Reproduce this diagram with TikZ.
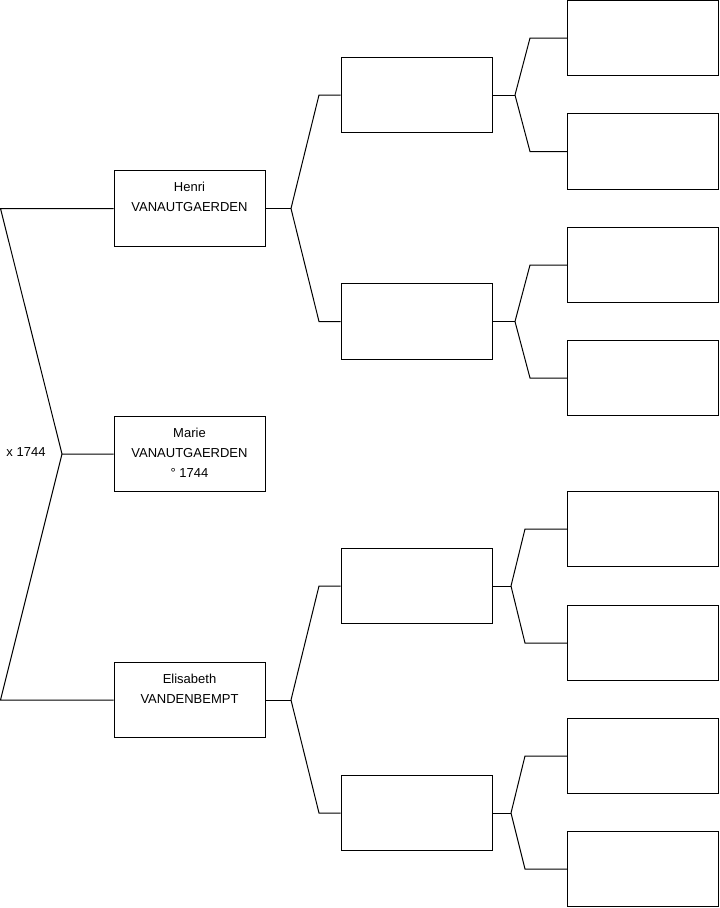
\documentclass[tikz,border=0pt]{standalone}
\usepackage{fontspec}
\setmainfont{Liberation Sans}
\begin{document}
\begin{tikzpicture}[x=0.75pt,y=-0.75pt,
  line width=0.75pt,
  person/.style={draw, minimum width=113.25pt, minimum height=56.5pt, inner sep=0pt},
  txt/.style={anchor=north, inner sep=0pt, align=center, font=\fontsize{9.75}{15}\selectfont},
  lbl/.style={inner sep=0pt, font=\fontsize{9.75}{15}\selectfont}]
\useasboundingbox (0,0) rectangle (719,908);
% generation 1
\node[person] (henri) at (189.5,208.5) {};
\node[person] (marie) at (189.5,454) {};
\node[person] (elis) at (189.5,700) {};
\node[txt] (henriT) at ([yshift=-8.5pt]henri.north) {Henri\\VANAUTGAERDEN};
\node[txt] (marieT) at ([yshift=-8.5pt]marie.north) {Marie\\VANAUTGAERDEN\\° 1744};
\node[txt] (elisT) at ([yshift=-8.5pt]elis.north) {Elisabeth\\VANDENBEMPT};
% generation 2
\node[person] (ga) at (416.5,95) {};
\node[person] (gb) at (416.5,321.5) {};
\node[person] (gc) at (416.5,586) {};
\node[person] (gd) at (416.5,813) {};
% generation 3
\node[person] (ha) at (643,38) {};
\node[person] (hb) at (643,151.5) {};
\node[person] (hc) at (643,265) {};
\node[person] (hd) at (643,378) {};
\node[person] (he) at (643,529) {};
\node[person] (hf) at (643,643) {};
\node[person] (hg) at (643,756) {};
\node[person] (hh) at (643,869) {};
% marriage connector
\coordinate (m0) at (62,454);
\coordinate (mh) at (0.5,208.5);
\coordinate (me) at (0.5,700);
\draw (henri.west) -- (mh) -- (m0) -- (marie.west);
\draw (elis.west) -- (me) -- (m0);
\node[lbl] (wed) at (26,452) {x 1744};
% Henri -> parents
\coordinate (j1) at (291,208.5);
\draw (henri.east) -- (j1);
\draw (j1) -- (319,95) -- (ga.west);
\draw (j1) -- (319,321.5) -- (gb.west);
% Elisabeth -> parents
\coordinate (j2) at (291,700);
\draw (elis.east) -- (j2);
\draw (j2) -- (319,586) -- (gc.west);
\draw (j2) -- (319,813) -- (gd.west);
% gen 2 -> gen 3
\coordinate (ka) at (515,95);
\draw (ga.east) -- (ka);
\draw (ka) -- (530,38) -- (ha.west);
\draw (ka) -- (530,151.5) -- (hb.west);
\coordinate (kb) at (515,321.5);
\draw (gb.east) -- (kb);
\draw (kb) -- (530,265) -- (hc.west);
\draw (kb) -- (530,378) -- (hd.west);
\coordinate (kc) at (511,586);
\draw (gc.east) -- (kc);
\draw (kc) -- (525,529) -- (he.west);
\draw (kc) -- (525,643) -- (hf.west);
\coordinate (kd) at (511,813);
\draw (gd.east) -- (kd);
\draw (kd) -- (525,756) -- (hg.west);
\draw (kd) -- (525,869) -- (hh.west);
\end{tikzpicture}
\end{document}
